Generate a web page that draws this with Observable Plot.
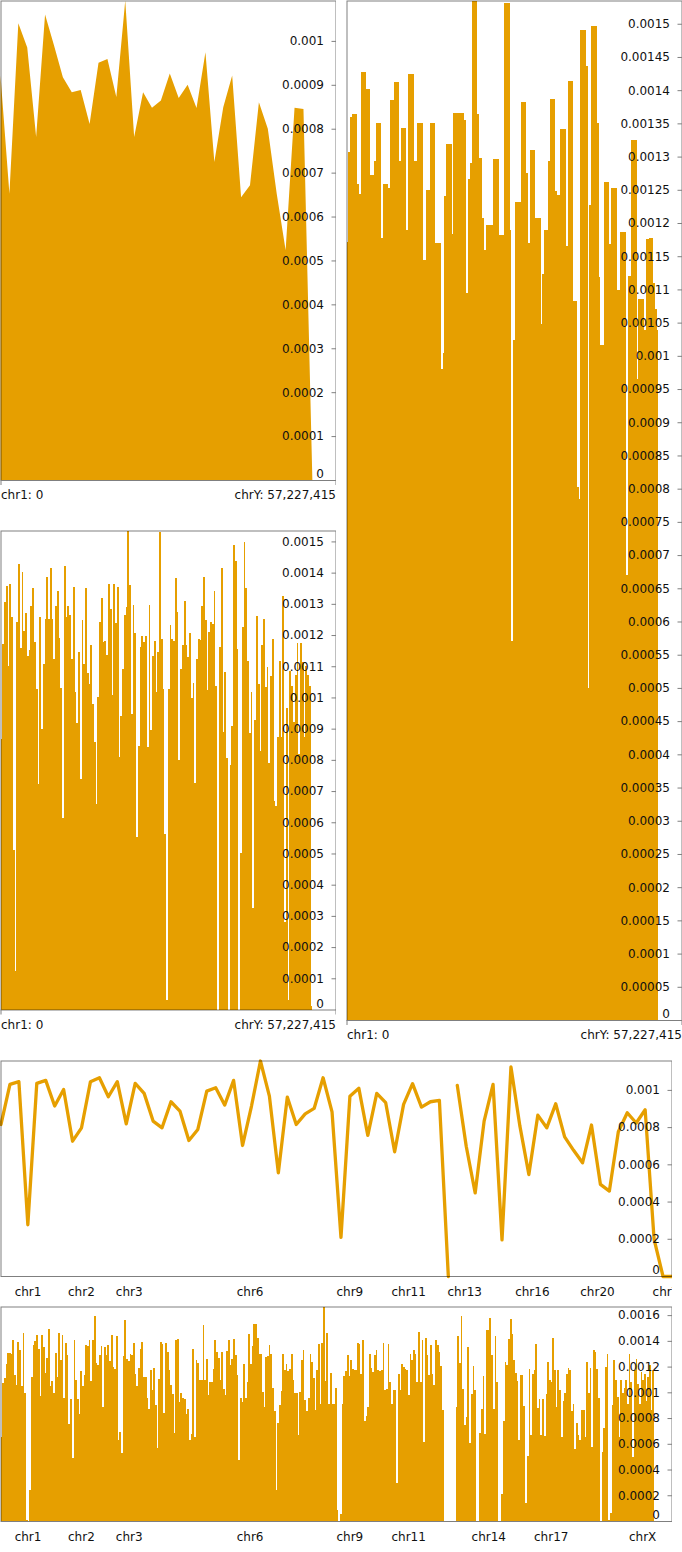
<!DOCTYPE html>
<html><head><meta charset="utf-8">
<script src="https://cdn.jsdelivr.net/npm/d3@7"></script>
<script src="https://cdn.jsdelivr.net/npm/@observablehq/plot@0.6"></script>
<style>
html,body{margin:0;padding:0;background:#fff;}
#root{position:relative;width:682px;height:1552px;overflow:hidden;}
</style></head><body><div id="root"></div>
<script>
// ---- Genome (hg38) ----
const chromNames = ["chr1","chr2","chr3","chr4","chr5","chr6","chr7","chr8","chr9","chr10","chr11","chr12","chr13","chr14","chr15","chr16","chr17","chr18","chr19","chr20","chr21","chr22","chrX","chrY"];
const chromLengths = [248956422,242193529,198295559,190214555,181538259,170805979,159345973,145138636,138394717,133797422,135086622,133275309,114364328,107043718,101991189,90338345,83257441,80373285,58617616,64444167,46709983,50818468,156040895,57227415];

// ---- Panel 1: area (coarse bins) ----
const p1Values = [0.000921,0.000652,0.00104,0.000985,0.000781,0.00106,0.00099,0.000917,0.000883,0.000888,0.000811,0.00095,0.000959,0.000872,0.001092,0.000781,0.000883,0.000848,0.000864,0.000926,0.00087,0.0009,0.000847,0.000974,0.000724,0.000849,0.000921,0.000644,0.000671,0.00086,0.0008,0.000652,0.000523,0.000848,0.000845,0];

// ---- Panel 2: tall bars ----
const p2Values = [0.001172,0.001307,0.00136,0.001364,0.001364,0.001364,0.001258,0.001244,0.001427,0.001427,0.001427,0.001401,0.001401,0.001273,0.001273,0.001293,0.001351,0.001351,0.001351,0.001178,0.001258,0.001258,0.001258,0.001253,0.001385,0.001385,0.001413,0.001413,0.001413,0.001294,0.001343,0.001343,0.001343,0.00119,0.001424,0.001424,0.001424,0.001293,0.001293,0.001351,0.001351,0.001351,0.001144,0.001144,0.00125,0.00125,0.001351,0.001351,0.001351,0.00117,0.00117,0.00117,0.00098,0.001004,0.00124,0.001319,0.001319,0.001319,0.001183,0.001365,0.001365,0.001365,0.001366,0.001366,0.001366,0.001355,0.001094,0.001266,0.00129,0.001535,0.001535,0.001535,0.001364,0.001298,0.001298,0.001207,0.00116,0.001197,0.001197,0.001197,0.001197,0.001297,0.001297,0.001297,0.001182,0.001182,0.001182,0.001531,0.001531,0.001531,0.001189,0.00057,0.001024,0.001231,0.001231,0.001231,0.001382,0.001382,0.001382,0.001276,0.00117,0.00131,0.00131,0.00131,0.001207,0.001207,0.001207,0.001048,0.001123,0.001189,0.001189,0.001294,0.001387,0.001387,0.001387,0.001248,0.001242,0.001242,0.001341,0.001341,0.001341,0.001165,0.001414,0.001414,0.001414,0.001082,0.001082,0.000803,0.000784,0.00149,0.00149,0.00149,0.001437,0.0005,0.001227,0.001497,0.001497,0.001497,0.00135,0.001119,0.001016,0.001016,0.001262,0.001262,0.001262,0.001169,0.001252,0.001252,0.001252,0.001099,0.001099,0.001187,0.001187,0.001187,0.00067,0.00112,0.00112,0.001325,0.001325,0.001325,0.000965,0.001086,0.001086,0.001086,0.001039,0.001176,0.001176,0.001177,0.001177,0.00111,0.001071,0.001039];

// ---- Panel 3: short bars ----
const p3Values = [0.000868,0.001172,0.001307,0.001358,0.0011,0.001364,0.001257,0.00051,0.000123,0.001243,
0.001427,0.001158,0.001401,0.001214,0.001271,0.001132,0.001153,0.001294,0.001351,0.001177,
0.001028,0.000724,0.001257,0.000898,0.001108,0.001252,0.001385,0.001252,0.001414,0.001252,
0.001124,0.001294,0.001342,0.00119,0.00103,0.000614,0.001422,0.001257,0.001294,0.001264,
0.001124,0.001353,0.001019,0.000918,0.001145,0.000738,0.001249,0.001108,0.001351,0.001078,
0.001044,0.001169,0.00098,0.000857,0.00066,0.001003,0.001241,0.001319,0.001179,0.001182,
0.001136,0.001364,0.001282,0.001009,0.001364,0.001238,0.001355,0.000809,0.000942,0.001092,
0.001264,0.001289,0.001535,0.001361,0.000948,0.001297,0.001207,0.000553,0.000843,0.001161,
0.001196,0.001177,0.001198,0.000841,0.001296,0.000897,0.001134,0.00118,0.001017,0.001145,
0.001531,0.001188,0.001028,0.000564,0.000031,
0.001028,0.001231,0.001188,0.001182,0.001382,0.001275,0.000799,0.001092,0.001169,0.00131,
0.001169,0.001129,0.001207,0.000998,0.001046,0.000726,0.001122,0.001188,0.001184,0.001294,
0.001387,0.001247,0.001023,0.001211,0.001241,0.001236,0.00134,0.001036,0,0.001163,
0.001414,0.000889,0.001083,0.000805,0,0.000783,0.000908,0.001489,0.001436,0.001156,
0,0.0005,0.001227,0.001497,0.00135,0.001118,0.000887,0.001017,0.000324,0.000928,
0.001262,0.001042,0.000828,0.001169,0.001252,0.001033,0.001097,0.00079,0.001068,0.001186,
0.000667,0.000651,0.000873,0.001118,0.000873,0.001326,0.000281,0.000966,0.00003,0.001084,
0.001036,0.000921,0.001071,0.001175,0.00082,0.001175,0.001113,0.000873,0.001102,0.001071,
0.001038,0.00001];

// ---- Panel 4: line ----
const p4Values = [0.000817,0.001032,0.001047,0.000278,0.001038,0.001054,0.000916,0.001005,0.000727,0.000799,
0.001047,0.001068,0.000966,0.001047,0.00082,0.001038,0.000984,0.000835,0.000799,0.000939,
0.000889,0.000731,0.00079,0.000996,0.001014,0.000921,0.001054,0.000704,0.000916,0.001158,
0.000969,0.000557,0.000964,0.000817,0.000874,0.000903,0.001068,0.000885,0.00021,0.000969,
0.001011,0.000758,0.000984,0.000934,0.00067,0.000925,0.001036,0.00091,0.000939,0.000946,
0,0.001027,0.0007,0.000449,0.000835,0.001032,0.000197,0.001126,0.000808,0.000548,
0.000867,0.000799,0.000928,0.00075,0.000678,0.000611,0.000814,0.000495,0.000459,0.000778,
0.00088,0.000825,0.000896,0.0002,0,0];
const p4SegmentStarts = [0, 51];

// ---- Panel 5: wide bars ----
const p5Values = [0.000654,0.001072,0.001114,0.001217,0.001305,0.001305,0.0013,0.001408,0.001132,0.001054,
0.00139,0.001326,0.001047,0.001463,0.000995,0.000008,0,0.00024,0.001119,0.001364,
0.001398,0.001447,0.001333,0.000972,0.001442,0.001351,0.00115,0.001269,0.001494,0.001047,
0.001088,0.000995,0.001308,0.001119,0.001463,0.001253,0.001447,0.000959,0.001385,0.001287,
0.000757,0.000946,0.000486,0.001408,0.001098,0.000946,0.000835,0.001163,0.001047,0.001132,
0.001364,0.001359,0.001403,0.001088,0.001408,0.001597,0.001227,0.001209,0.001292,0.001357,
0.000886,0.001351,0.001287,0.001364,0.00124,0.001442,0.001196,0.001183,0.001434,0.000628,
0.000693,0.000532,0.001279,0.001563,0.001261,0.00124,0.001295,0.001292,0.001385,0.00114,
0.001047,0.001189,0.001339,0.00139,0.001119,0.001119,0.000959,0.000873,0.001171,0.001016,
0.001191,0.000899,0.000568,0.001106,0.00139,0.001372,0.00084,0.001382,0.001313,0.001171,
0.001054,0.000984,0.000685,0.001403,0.001411,0.000925,0.000995,0.000959,0.000951,0.000835,
0.000873,0.000628,0.00068,0.001339,0.000654,0.001253,0.001227,0.001098,0.001093,0.001527,
0.001093,0.001261,0.000977,0.00108,0.00108,0.001183,0.001408,0.001313,0.001266,0.001093,
0.001313,
0.001028,0.000977,0.001318,0.001403,0.001209,0.001261,0.001416,0.001287,0.001132,0.000473,
0.000956,0.000925,0.001217,0.000959,0.00108,0.00145,0.001217,0.001357,0.001532,0.001532,
0.001421,0.0013,0.0013,0.001003,0.000886,0.001274,0.001279,0.00137,0.0013,0.001036,
0.000853,0.00024,0.000765,0.000904,0.00101,0.0013,0.001171,0.001217,0.001163,0.001183,
0.0013,0.001093,0.000995,0.000995,0.000672,0.001003,0.001253,0.001331,0.000943,0.000853,
0.000959,0.0013,0.001235,0.001111,0.00086,0.001171,0.001372,0.000912,0.001382,0.001667,
0.001088,0.001463,0.000907,0.00115,0.000907,0.000907,0.001036,0.000085,0,0.000054,
0.000907,0.001124,0.001163,0.001292,0.001124,0.001248,0.001183,0.001176,0.001176,0.001382,
0.001377,0.001145,0.001403,0.000775,0.000814,0.000886,0.001295,0.001189,0.001158,0.001287,
0.001331,0.001176,0.001163,0.001171,0.001382,0.001021,0.001028,0.001377,0.00108,0.000912,
0.001021,0.001016,0.000297,0.001145,0.001021,0.001222,0.001196,0.001183,0.001171,0.000977,
0.0013,0.001248,0.001331,0.0013,0.00108,0.001468,0.00108,0.001403,0.000615,0.001421,
0.001287,0.001137,0.001364,0.00114,0.001059,0.001408,0.001364,0.001313,0.001202,0.000866,
0,0,0,0,0,0,0,
0.000886,0.001434,0.001227,0.001597,0.001023,0.000744,0.000809,0.001351,0.000607,0.000984,
0.001204,0.001016,0,0,0.000687,0.000868,0.001124,0.00068,0.001481,0.001488,
0.001579,0.001292,0.000873,0.001434,0.00108,0,0,0.000207,0.000778,0.001235,
0.001214,0.001416,0.001571,0.00145,0.001253,0.00115,0.001085,0.000633,0.001132,0.001132,
0.000891,0.000142,0.000506,0.001178,0.000672,0.001145,0.001171,0.001377,0.000881,0.000951,
0.000667,0.000951,0.000659,0.00099,0.001235,0.001093,0.00108,0.001424,0.001176,0.000886,
0.001171,0.001021,0.000654,0.00093,0.000995,0.001145,0.001189,0.001171,0.000853,0.000912,
0.000563,0.000762,0.000667,0.000628,0.000866,0.000866,0.000654,0.001235,0.000995,0.001189,
0.000576,0.001331,0.001313,0.001183,0.000956,0,0.000537,0.000724,0.001196,0.0013,
0.000008,0.000059,
0.000904,0.001253,0.001093,0.000964,0.000654,0.001093,0.000995,0.001033,0.001093,0.000912,
0.0013,0.00108,0.0005,0.001171,0.001261,0.001065,0.000912,0.001158,0.001093,0.001145,
0.000935,0.001119,0.001209,0.000866,0.001171];
const p5DataEnd = 3008600000;

// ---- Tick values and chromosome labels ----
const p1Ticks = [0,0.0001,0.0002,0.0003,0.0004,0.0005,0.0006,0.0007,0.0008,0.0009,0.001];
const p2Ticks = d3.range(0, 31).map(i => i * 0.00005);
const p3Ticks = d3.range(0, 16).map(i => i * 0.0001);
const p4Ticks = [0,0.0002,0.0004,0.0006,0.0008,0.001];
const p5Ticks = [0,0.0002,0.0004,0.0006,0.0008,0.001,0.0012,0.0014,0.0016];
const p4Labels = ["chr1","chr2","chr3","chr6","chr9","chr11","chr13","chr16","chr20","chrY"];
const p5Labels = ["chr1","chr2","chr3","chr6","chr9","chr11","chr14","chr17","chrX"];

// ---- Derived ----
const ORANGE = "#E69F00";
const G = d3.sum(chromLengths);
const starts = Array.from(d3.cumsum([0, ...chromLengths.slice(0, -1)]));
const chrXStart = starts[chromNames.indexOf("chrX")];
const fmt = d => String(+(+d).toFixed(6));
const STYLE = {fontFamily: "'DejaVu Sans', sans-serif", fontSize: "12px", background: "transparent", overflow: "hidden"};

function bins(values, end) {
  const w = end / values.length;
  return values.map((v, i) => ({x1: i * w, x2: (i + 1) * w, value: v}));
}
function bars(values, end) {
  return Plot.rectY(bins(values, end), {x1: "x1", x2: "x2", y: "value", fill: ORANGE, shapeRendering: "crispEdges"});
}
function yAxes(ticks) {
  return [
    Plot.axisY(ticks.filter(t => t > 0), {anchor: "right", tickSize: 5, dx: -5, tickPadding: -12, textAnchor: "end", stroke: "#808080", fill: "#111", tickFormat: fmt, label: null}),
    Plot.axisY([0], {anchor: "right", tickSize: 0, tickPadding: -12, textAnchor: "end", dy: -6, fill: "#111", tickFormat: fmt, label: null})
  ];
}
function endAxes() {
  const last = chromNames.length - 1;
  return [
    Plot.axisX([0], {anchor: "bottom", tickSize: 5, tickPadding: 5, textAnchor: "start", stroke: "#808080", fill: "#111", tickFormat: () => `${chromNames[0]}: 0`, label: null}),
    Plot.axisX([G], {anchor: "bottom", tickSize: 5, tickPadding: 5, textAnchor: "end", stroke: "#808080", fill: "#111", tickFormat: () => `${chromNames[last]}: ${d3.format(",")(chromLengths[last])}`, label: null})
  ];
}
function chromAxis(names) {
  const byPos = new Map();
  const pos = names.map(n => { const i = chromNames.indexOf(n); const p = starts[i] + chromLengths[i] / 2; byPos.set(p, n); return p; });
  return Plot.axisX(pos, {anchor: "bottom", tickSize: 0, tickPadding: 11, fill: "#111", tickFormat: d => byPos.get(d), label: null});
}
const frame = () => Plot.frame({stroke: "#000", strokeOpacity: 0.5});
const root = document.getElementById("root");
function mount(svg, left, top) {
  svg.style.position = "absolute";
  svg.style.left = left + "px";
  svg.style.top = top + "px";
  root.appendChild(svg);
}

// Panel 1
const p1Step = chrXStart / (p1Values.length - 1);
mount(Plot.plot({
  width: 336, height: 505, marginLeft: 0.5, marginRight: 0.5, marginTop: 0.5, marginBottom: 25,
  style: STYLE,
  x: {domain: [0, G]}, y: {domain: [0, d3.max(p1Values)]},
  marks: [
    Plot.areaY(p1Values.map((v, i) => ({pos: i * p1Step, value: v})), {x: "pos", y: "value", fill: ORANGE}),
    frame(), ...yAxes(p1Ticks), ...endAxes()
  ]
}), 0, 0);

// Panel 2
mount(Plot.plot({
  width: 336, height: 1045, marginLeft: 0.5, marginRight: 0.5, marginTop: 0.5, marginBottom: 25,
  style: STYLE,
  x: {domain: [0, G]}, y: {domain: [0, d3.max(p2Values)]},
  marks: [bars(p2Values, chrXStart), frame(), ...yAxes(p2Ticks), ...endAxes()]
}), 346, 0);

// Panel 3
mount(Plot.plot({
  width: 336, height: 506, marginLeft: 0.5, marginRight: 0.5, marginTop: 1.5, marginBottom: 25.5,
  style: STYLE,
  x: {domain: [0, G]}, y: {domain: [0, d3.max(p3Values)]},
  marks: [bars(p3Values, chrXStart), frame(), ...yAxes(p3Ticks), ...endAxes()]
}), 0, 529);

// Panel 4
const p4Step = G / (p4Values.length - 1);
const p4Data = p4Values.map((v, i) => ({pos: i * p4Step, value: v, seg: d3.bisectRight(p4SegmentStarts, i)}));
mount(Plot.plot({
  width: 672, height: 245, marginLeft: 0.5, marginRight: 0.5, marginTop: 1.5, marginBottom: 28,
  style: STYLE,
  x: {domain: [0, G]}, y: {domain: [0, d3.max(p4Values)]},
  marks: [
    Plot.lineY(p4Data, {x: "pos", y: "value", z: "seg", stroke: ORANGE, strokeWidth: 3.3}),
    frame(), ...yAxes(p4Ticks), chromAxis(p4Labels)
  ]
}), 0, 1059);

// Panel 5
mount(Plot.plot({
  width: 672, height: 245, marginLeft: 0.5, marginRight: 0.5, marginTop: 1.5, marginBottom: 29,
  style: STYLE,
  x: {domain: [0, G]}, y: {domain: [0, d3.max(p5Values)]},
  marks: [bars(p5Values, p5DataEnd), frame(), ...yAxes(p5Ticks), chromAxis(p5Labels)]
}), 0, 1305);
</script>
</body></html>
